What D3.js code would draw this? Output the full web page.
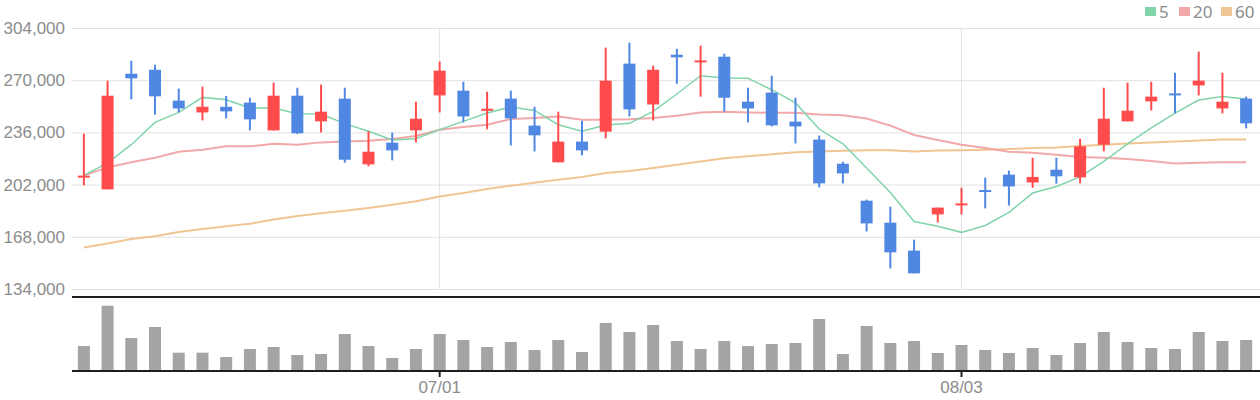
<!DOCTYPE html>
<html>
<head>
<meta charset="utf-8">
<style>
    body { margin: 0; background: #fff; }
    svg { display: block; font-family: 'Noto Sans', 'Liberation Sans', sans-serif; }
    .grid line { stroke: #e2e2e2; stroke-width: 1; }
    .grid .domain { display: none; }
    .yaxis text, .xaxis text, .legend text { fill: #8c8c8c; font-size: 17px; }
    .yaxis .domain, .yaxis line { display: none; }
    .xaxis .domain { display: none; }
    .xaxis line { stroke: #222; stroke-width: 2; }
</style>
</head>
<body>
<svg width="1260" height="400"></svg>

<script src="https://d3js.org/d3.v7.min.js"></script>
<script>
    const dates = ["06/10", "06/11", "06/12", "06/15", "06/16", "06/17", "06/18", "06/19", "06/22", "06/23",
        "06/24", "06/25", "06/26", "06/29", "06/30",
        "07/01", "07/02", "07/03", "07/06", "07/07", "07/08", "07/09", "07/10", "07/13", "07/14",
        "07/15", "07/16", "07/20", "07/21", "07/22", "07/23", "07/24", "07/27", "07/28", "07/29",
        "07/30", "07/31",
        "08/03", "08/04", "08/05", "08/06", "08/07", "08/10", "08/11", "08/12", "08/13", "08/14",
        "08/18", "08/19", "08/20"]

    const open = [207000, 198900, 274200, 276800, 256700, 249000, 252700, 255400, 237300, 259900,
        243200, 258000, 215200, 229300, 237300, 260100, 263200, 250500, 258000, 240400,
        216500, 230000, 236500, 280800, 254200, 286600, 282000, 285300, 256000, 261900,
        243000, 231300, 215600, 191500, 177200, 159000, 182600, 188900, 198000, 208500,
        203400, 211700, 206700, 228000, 243200, 256200, 261000, 266600, 251600, 258000]
    const close = [207400, 259900, 271200, 259500, 251600, 252700, 249700, 244500, 259900, 235400,
        249500, 218200, 223400, 224300, 244900, 276200, 246400, 251000, 245100, 234100,
        230000, 224300, 269700, 251000, 276800, 284900, 282500, 258600, 251600, 240600,
        239900, 202800, 209300, 176700, 157900, 144200, 187000, 189300, 197600, 200800,
        207000, 207400, 226900, 244900, 250100, 259300, 260500, 269700, 256000, 241900]
    const high = [235200, 269700, 282700, 280100, 264500, 265800, 259700, 258600, 268400, 265100,
        267100, 265100, 236700, 235800, 256000, 282100, 269000, 262500, 263200, 252700,
        249500, 243600, 291200, 294400, 279500, 290500, 292500, 287300, 265100, 272900,
        258600, 233900, 216900, 192200, 187600, 166100, 187000, 200000, 206500, 211100,
        219500, 219500, 231900, 265100, 268400, 269000, 274900, 288600, 274900, 259300]
    const low = [201500, 198900, 257500, 247500, 249000, 243800, 245100, 237300, 237300, 235000,
        236000, 216300, 213900, 217800, 229500, 249000, 242500, 238000, 227500, 223600,
        216500, 221000, 232100, 246400, 243800, 267700, 259300, 249500, 242500, 239900,
        228800, 200200, 202800, 171500, 147400, 144200, 177400, 182600, 186500, 188300,
        200000, 202600, 202800, 223600, 243200, 250300, 248400, 260100, 248400, 238600]

    const ma5 = [208000, 216100, 228000, 242500, 249000, 258800, 257300, 251900, 251900, 248200,
        248000, 241700, 236700, 231100, 231900, 237800, 243200, 248600, 252600, 250300,
        241000, 236700, 240800, 241900, 249700, 261000, 272900, 271400, 271200, 263800,
        255200, 238200, 228600, 212800, 196900, 178000, 174900, 170900, 175400, 183900,
        196500, 200800, 207000, 217100, 228500, 238900, 248600, 257100, 259300, 257800]
    const ma20 = [208000, 213200, 216500, 219500, 223400, 224700, 226900, 226900, 228600, 228000,
        229500, 230100, 230600, 231700, 233700, 237800, 239500, 241000, 244700, 245400,
        246400, 244300, 244300, 244500, 245400, 246900, 249000, 249500, 249000, 248800,
        248800, 247700, 247100, 245100, 240400, 234300, 231100, 228000, 225800, 223400,
        222800, 221500, 220000, 219500, 218700, 217400, 215800, 216300, 216500, 216500]
    const ma60 = [161100, 163700, 166600, 168300, 171100, 173100, 174800, 176500, 179300, 181600,
        183300, 185000, 186800, 188900, 191100, 194300, 196500, 199100, 201300, 203200,
        205200, 207000, 209600, 210900, 212800, 215000, 217100, 219100, 220400, 221700,
        223000, 223600, 224100, 224300, 224300, 223600, 224200, 224300, 224700, 225200,
        225800, 226200, 227200, 228000, 228800, 229500, 230100, 230800, 231400, 231400]

    const volume = [250000, 653000, 330000, 440000, 183000, 183000, 140000, 220000, 240000, 160000,
        170000, 370000, 250000, 130000, 220000, 370000, 310000, 240000, 290000, 210000,
        310000, 190000, 480000, 390000, 460000, 300000, 220000, 300000, 250000, 270000,
        280000, 520000, 170000, 450000, 280000, 300000, 180000, 260000, 210000, 180000,
        230000, 160000, 280000, 390000, 290000, 230000, 220000, 390000, 300000, 310000]

    const priceTicks = [134000, 168000, 202000, 236000, 270000, 304000]
    const maNames = ["5", "20", "60"]
    const maColors = ["#80d4aa", "#f2a8a8", "#f0c594"]

    const upColor = "#ff4b4b"
    const downColor = "#4f87e3"

    let width = 1260
    let svg = d3.select("svg")

    let margin = { left: 72, right: 2 }
    let priceTop = 28, priceBottom = 289
    let volTop = 297, volBottom = 371

    let x = d3.scaleBand()
        .domain(dates)
        .range([margin.left, width - margin.right])

    let y = d3.scaleLinear()
        .domain([priceTicks[0], priceTicks[priceTicks.length - 1]])
        .range([priceBottom, priceTop])

    let yVol = d3.scaleLinear()
        .domain([0, 740000])
        .range([volBottom, volTop])

    // first trading day of each month gets a tick
    let monthStarts = dates.filter((d, i) => i > 0 && d.slice(0, 2) != dates[i - 1].slice(0, 2))

    // horizontal grid
    svg.append("g")
        .attr("class", "grid")
        .attr("transform", `translate(${margin.left},0)`)
        .call(d3.axisLeft(y).tickValues(priceTicks).tickSize(-(width - margin.left)).tickFormat(""))

    // vertical grid at month starts
    svg.append("g")
        .attr("class", "grid")
        .selectAll("line")
        .data(monthStarts)
        .join("line")
        .attr("x1", d => x(d) + x.bandwidth() / 2)
        .attr("x2", d => x(d) + x.bandwidth() / 2)
        .attr("y1", priceTop)
        .attr("y2", priceBottom)

    // y labels
    svg.append("g")
        .attr("class", "yaxis")
        .attr("transform", `translate(${margin.left - 7},0)`)
        .call(d3.axisLeft(y).tickValues(priceTicks).tickSize(0).tickPadding(0).tickFormat(d3.format(",")))

    // moving averages (drawn under the candles)
    let line = d3.line()
        .x((d, i) => x(dates[i]) + x.bandwidth() / 2)
        .y(d => y(d))

    let maSeries = [ma5, ma20, ma60]
    svg.append("g")
        .selectAll("path")
        .data(maSeries.slice().reverse())
        .join("path")
        .attr("d", line)
        .attr("fill", "none")
        .attr("stroke", (d, i) => maColors[2 - i])
        .attr("stroke-width", (d, i) => i == 2 ? 1.5 : 2)

    // candles
    let candles = svg.append("g")
        .selectAll("g")
        .data(dates)
        .join("g")
        .attr("fill", (d, i) => close[i] > open[i] ? upColor : downColor)
        .attr("stroke", (d, i) => close[i] > open[i] ? upColor : downColor)

    let cx = d => x(d) + x.bandwidth() / 2

    candles.append("line")
        .attr("x1", cx)
        .attr("x2", cx)
        .attr("y1", (d, i) => y(high[i]))
        .attr("y2", (d, i) => y(low[i]))
        .attr("stroke-width", 2)

    candles.append("rect")
        .attr("stroke", "none")
        .attr("x", d => cx(d) - 6)
        .attr("width", 12)
        .attr("y", (d, i) => {
            let top = y(Math.max(open[i], close[i]))
            let h = Math.abs(y(open[i]) - y(close[i]))
            return h < 2 ? top - (2 - h) / 2 : top
        })
        .attr("height", (d, i) => Math.max(2, Math.abs(y(open[i]) - y(close[i]))))

    // volume bars
    svg.append("g")
        .selectAll("rect")
        .data(volume)
        .join("rect")
        .attr("x", (d, i) => x(dates[i]) + x.bandwidth() / 2 - 6)
        .attr("width", 12)
        .attr("y", d => yVol(d))
        .attr("height", d => yVol(0) - yVol(d))
        .attr("fill", "#a4a4a4")

    // panel separators
    svg.append("g")
        .selectAll("line")
        .data([volTop, volBottom])
        .join("line")
        .attr("x1", margin.left)
        .attr("x2", width)
        .attr("y1", d => d)
        .attr("y2", d => d)
        .attr("stroke", "#1e1e1e")
        .attr("stroke-width", 2)

    // x axis
    svg.append("g")
        .attr("class", "xaxis")
        .attr("transform", `translate(0,${volBottom})`)
        .call(d3.axisBottom(x).tickValues(monthStarts).tickSize(6).tickPadding(4))

    // legend
    let legend = svg.append("g").attr("class", "legend")
    let legendX = [1145, 1179, 1221]
    maNames.forEach((name, i) => {
        legend.append("rect")
            .attr("x", legendX[i])
            .attr("y", 7)
            .attr("width", 11)
            .attr("height", 9)
            .attr("fill", maColors[i])
        legend.append("text")
            .attr("x", legendX[i] + 14)
            .attr("y", 18)
            .text(name)
    })
</script>
</body>
</html>
